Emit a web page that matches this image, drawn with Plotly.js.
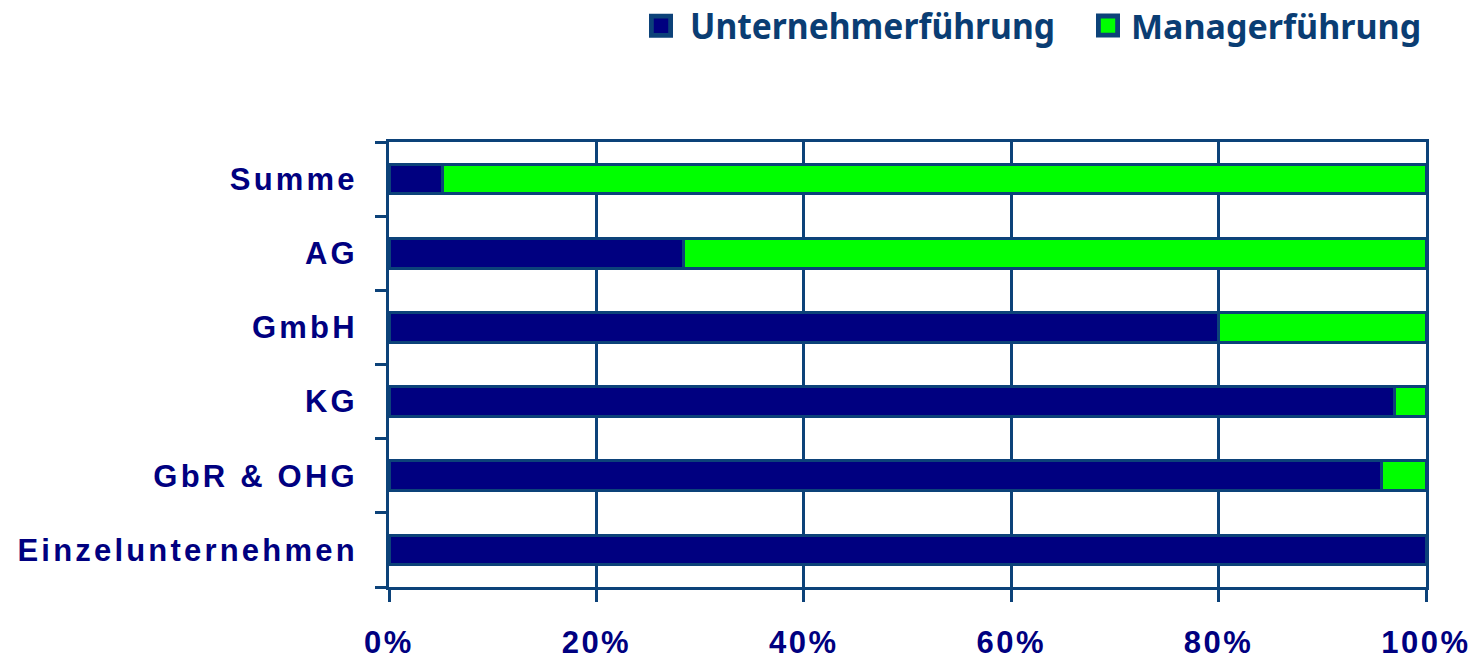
<!DOCTYPE html>
<html>
<head>
<meta charset="utf-8">
<script src="https://cdn.plot.ly/plotly-3.0.1.min.js"></script>
<style>
html, body { margin: 0; padding: 0; background: #ffffff; }
#chart { width: 1477px; height: 659px; }
.ytick text { letter-spacing: 3.2px; }
.xtick text { letter-spacing: 2.5px; }
.legendpoints path { transform: translateX(29px) scale(1.6); }
.legendtext { transform-box: fill-box; transform-origin: left center; transform: scaleX(0.96); }
</style>
</head>
<body>
<div id="chart"></div>
<script>
const categories = ["Einzelunternehmen", "GbR & OHG", "KG", "GmbH", "AG", "Summe"];
const unternehmer = [100, 95.7, 97.0, 80.0, 28.4, 5.2];
const manager = [0, 4.3, 3.0, 20.0, 71.6, 94.8];
const seriesNames = ["Unternehmerführung", "Managerführung"];
const xTickVals = [0, 20, 40, 60, 80, 100];
const xTickText = ["0%", "20%", "40%", "60%", "80%", "100%"];

const edge = "#0c4279";
const legendFont = { family: "Noto Sans, Open Sans, sans-serif", size: 35, color: "#0a3d73", weight: "bold" };
const legendFont2 = { family: "Noto Sans, Open Sans, sans-serif", size: 34, color: "#0a3d73", weight: "bold" };

const traces = [
  { type: "bar", orientation: "h", name: seriesNames[0], y: categories, x: unternehmer, legend: "legend",
    marker: { color: "#000080", line: { color: edge, width: 3 } }, hoverinfo: "x+y" },
  { type: "bar", orientation: "h", name: seriesNames[1], y: categories, x: manager, legend: "legend2",
    marker: { color: "#00ff00", line: { color: edge, width: 3 } }, hoverinfo: "x+y" }
];

const layout = {
  width: 1477, height: 659,
  margin: { l: 389, r: 51, t: 142, b: 72, autoexpand: false },
  paper_bgcolor: "#ffffff", plot_bgcolor: "#ffffff",
  barmode: "stack", bargap: 0.6,
  showlegend: true,
  legend: {
    xref: "container", yref: "container", itemwidth: 48,
    orientation: "h", x: 632 / 1477, xanchor: "left", y: 1 - 26 / 659, yanchor: "middle",
    font: legendFont, bgcolor: "rgba(0,0,0,0)"
  },
  legend2: {
    xref: "container", yref: "container", itemwidth: 42,
    orientation: "h", x: 1079 / 1477, xanchor: "left", y: 1 - 26 / 659, yanchor: "middle",
    font: legendFont2, bgcolor: "rgba(0,0,0,0)"
  },
  xaxis: {
    range: [0, 100], tickvals: xTickVals, ticktext: xTickText,
    showgrid: true, gridcolor: edge, gridwidth: 3,
    showline: true, linecolor: edge, linewidth: 3, mirror: true,
    ticks: "outside", ticklen: 12, tickwidth: 3, tickcolor: edge,
    ticklabelstandoff: 14,
    tickfont: { family: "Liberation Sans, Arial, sans-serif", size: 31, color: "#000080", weight: "bold" },
    zeroline: false, fixedrange: true
  },
  yaxis: {
    type: "category", categoryorder: "array", categoryarray: categories,
    showgrid: false,
    showline: true, linecolor: edge, linewidth: 3, mirror: true,
    ticks: "outside", tickson: "boundaries", ticklen: 11, tickwidth: 3, tickcolor: edge,
    ticklabelstandoff: 22,
    tickfont: { family: "Liberation Sans, Arial, sans-serif", size: 31, color: "#000080", weight: "bold" },
    zeroline: false, fixedrange: true
  }
};

Plotly.newPlot("chart", traces, layout, { displayModeBar: false, staticPlot: true });
</script>
</body>
</html>
